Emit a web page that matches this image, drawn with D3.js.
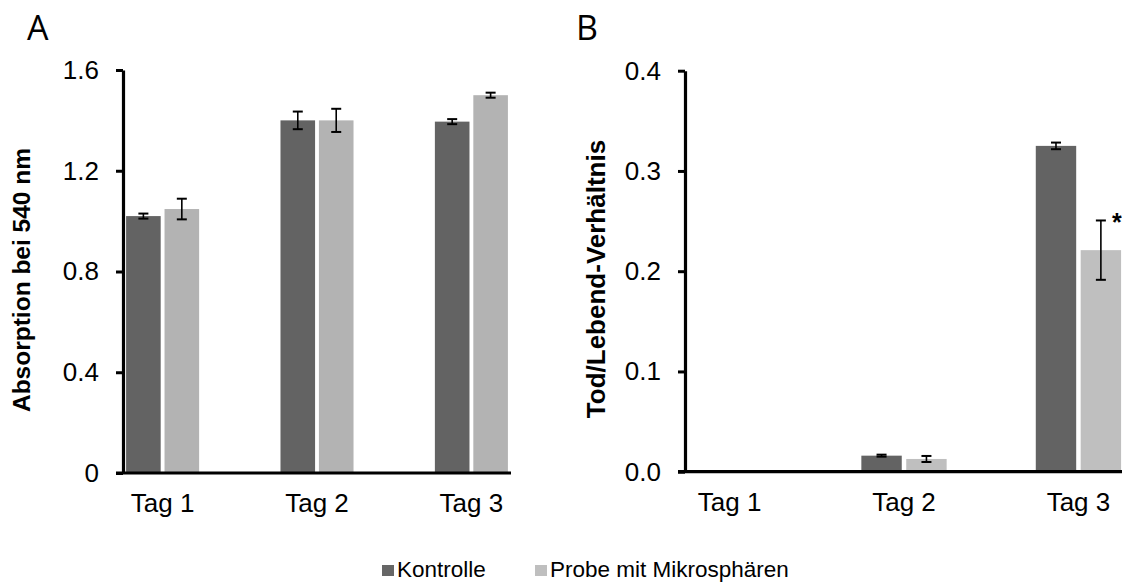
<!DOCTYPE html>
<html>
<head>
<meta charset="utf-8">
<script src="https://cdn.jsdelivr.net/npm/d3@7"></script>
<style>
  html, body { margin: 0; padding: 0; background: #fff; }
  svg { display: block; font-family: "Liberation Sans", Arial, sans-serif; }
</style>
</head>
<body>
<svg id="chart" width="1122" height="582"></svg>
<script>
// ---- data ----
const categories = ["Tag 1", "Tag 2", "Tag 3"];
const seriesNames = ["Kontrolle", "Probe mit Mikrosphären"];
const seriesColorsA = ["#636363", "#b3b3b3"];
const seriesColorsB = ["#636363", "#bfbfbf"];
const legendColors = ["#666666", "#bfbfbf"];

// Panel A: Absorption bei 540 nm
const absKontrolle = [1.02, 1.40, 1.395];
const absKontrolleErr = [0.01, 0.035, 0.01];
const absProbe = [1.048, 1.40, 1.50];
const absProbeErr = [0.041, 0.046, 0.01];
const ticksA = [0, 0.4, 0.8, 1.2, 1.6];
const tickLabelsA = ["0", "0.4", "0.8", "1.2", "1.6"];

// Panel B: Tod/Lebend-Verhältnis
const ratioKontrolle = [0, 0.016, 0.325];
const ratioKontrolleErr = [0, 0.001, 0.0033];
const ratioProbe = [0, 0.0127, 0.221];
const ratioProbeErr = [0, 0.003, 0.0296];
const ticksB = [0, 0.1, 0.2, 0.3, 0.4];
const tickLabelsB = ["0.0", "0.1", "0.2", "0.3", "0.4"];
const significance = [null, null, "*"]; // marks on Probe series

const svg = d3.select("#chart");

function panel(opts) {
  const g = svg.append("g");
  const y = d3.scaleLinear().domain(opts.yDomain).range(opts.yRange);
  const x = d3.scaleBand().domain(categories).range(opts.xRange)
    .paddingInner(opts.padInner).paddingOuter(opts.padOuter);
  const x1 = d3.scaleBand().domain(seriesNames).range([0, x.bandwidth()]).paddingInner(0.1);

  const rows = categories.map((c, i) => ({
    cat: c,
    vals: seriesNames.map((s, j) => ({
      s, j, v: opts.values[j][i], e: opts.errors[j][i], mark: j === 1 ? (opts.marks ? opts.marks[i] : null) : null
    }))
  }));

  const grp = g.selectAll("g.cat").data(rows).join("g")
    .attr("class", "cat")
    .attr("transform", d => `translate(${x(d.cat)},0)`);

  grp.selectAll("rect").data(d => d.vals.filter(v => v.v > 0)).join("rect")
    .attr("x", d => x1(d.s))
    .attr("width", x1.bandwidth())
    .attr("y", d => y(d.v))
    .attr("height", d => y(0) - y(d.v))
    .attr("fill", d => opts.colors[d.j]);

  // error bars
  const eb = grp.selectAll("g.err").data(d => d.vals.filter(v => v.v > 0)).join("g").attr("class", "err");
  const cx = d => x1(d.s) + x1.bandwidth() / 2;
  const capW = 5;
  eb.append("line").attr("x1", cx).attr("x2", cx)
    .attr("y1", d => y(d.v + d.e)).attr("y2", d => y(d.v - d.e))
    .attr("stroke", "#000").attr("stroke-width", 1.6);
  eb.append("line").attr("x1", d => cx(d) - capW).attr("x2", d => cx(d) + capW)
    .attr("y1", d => y(d.v + d.e)).attr("y2", d => y(d.v + d.e))
    .attr("stroke", "#000").attr("stroke-width", 2);
  eb.append("line").attr("x1", d => cx(d) - capW).attr("x2", d => cx(d) + capW)
    .attr("y1", d => y(d.v - d.e)).attr("y2", d => y(d.v - d.e))
    .attr("stroke", "#000").attr("stroke-width", 2);
  eb.filter(d => d.mark).append("text")
    .attr("x", d => cx(d) + 11)
    .attr("y", d => y(d.v + d.e) + 11)
    .attr("font-size", 25).attr("font-weight", "bold")
    .text(d => d.mark);

  // y axis
  const yAxis = d3.axisLeft(y).tickValues(opts.ticks)
    .tickFormat((d, i) => opts.tickLabels[i])
    .tickSize(7).tickSizeOuter(0).tickPadding(17);
  const ya = g.append("g").attr("transform", `translate(${opts.xRange[0]},0)`).call(yAxis);
  ya.select(".domain").attr("stroke", "#000").attr("stroke-width", 3.2);
  ya.selectAll(".tick line").attr("stroke", "#000").attr("stroke-width", 3);
  ya.selectAll(".tick text").attr("font-size", 26).attr("fill", "#000")
    .attr("font-family", "'Liberation Sans', Arial, sans-serif");

  // x axis
  const xAxis = d3.axisBottom(x).tickSize(0).tickPadding(21);
  const xa = g.append("g").attr("transform", `translate(0,${y(0)})`).call(xAxis);
  xa.select(".domain").attr("d", `M${opts.xRange[0] - 7},0H${opts.xRange[1]}`)
    .attr("stroke", "#000").attr("stroke-width", 3.2);
  xa.selectAll(".tick text").attr("font-size", 26).attr("fill", "#000")
    .attr("font-family", "'Liberation Sans', Arial, sans-serif");

  // y title
  g.append("text")
    .attr("transform", `translate(${opts.titleX},${opts.titleY}) rotate(-90)`)
    .attr("text-anchor", "middle")
    .attr("font-size", opts.titleSize).attr("font-weight", "bold")
    .text(opts.title);

  // panel letter
  g.append("text")
    .attr("x", opts.letterX).attr("y", 40)
    .attr("font-size", 34).attr("font-family", "'Open Sans', sans-serif")
    .text(opts.letter);
}

panel({
  yDomain: [0, 1.6], yRange: [473, 70],
  xRange: [123, 511], padInner: 0.527, padOuter: 0.02,
  values: [absKontrolle, absProbe], errors: [absKontrolleErr, absProbeErr],
  colors: seriesColorsA,
  ticks: ticksA, tickLabels: tickLabelsA,
  title: "Absorption bei 540 nm", titleX: 30, titleY: 280, titleSize: 24.5,
  letter: "A", letterX: 27
});

panel({
  yDomain: [0, 0.4], yRange: [471.7, 70.7],
  xRange: [685, 1123], padInner: 0.511, padOuter: 0.011,
  values: [ratioKontrolle, ratioProbe], errors: [ratioKontrolleErr, ratioProbeErr],
  colors: seriesColorsB, marks: significance,
  ticks: ticksB, tickLabels: tickLabelsB,
  title: "Tod/Lebend-Verhältnis", titleX: 605, titleY: 279, titleSize: 26,
  letter: "B", letterX: 576
});

// legend
const legend = svg.append("g").attr("font-size", 22.5);
const legendX = [382, 535];
seriesNames.forEach((s, i) => {
  legend.append("rect").attr("x", legendX[i]).attr("y", 565).attr("width", 12).attr("height", 11)
    .attr("fill", legendColors[i]);
  legend.append("text").attr("x", legendX[i] + 15).attr("y", 577).text(s);
});
</script>
</body>
</html>
